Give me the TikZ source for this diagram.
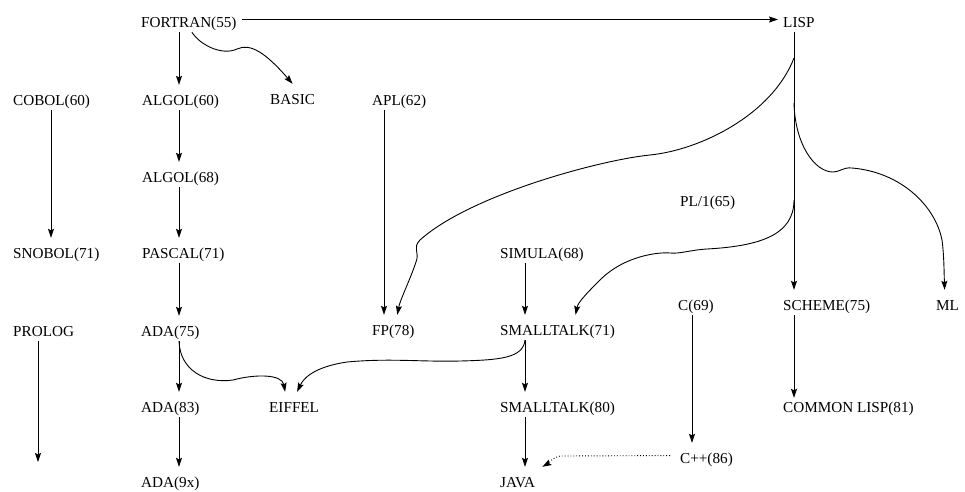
\documentclass[tikz,border=0pt]{standalone}
\usepackage{fontspec}
\setmainfont{Liberation Serif}
\usetikzlibrary{arrows.meta}
\begin{document}
\begin{tikzpicture}[x=1pt, y=-1pt,
    lbl/.style={anchor=base west, inner xsep=0pt, inner ysep=4pt, text height=16pt, text depth=1pt, font=\fontsize{15.2}{18}\selectfont},
    arr/.style={-{Stealth[length=9pt, width=6pt, inset=1.5pt]}, line width=0.9pt}]
        \useasboundingbox (0, 0) rectangle (965, 491);
        \node [lbl] (fortran) at (141, 27) {FORTRAN(55)};
        \node [lbl] (lisp) at (783, 27) {LISP};
        \node [lbl] (cobol) at (13, 105) {COBOL(60)};
        \node [lbl] (algol60) at (142, 105) {ALGOL(60)};
        \node [lbl] (basic) at (270, 104) {BASIC};
        \node [lbl] (apl) at (372, 105) {APL(62)};
        \node [lbl] (algol68) at (142, 182) {ALGOL(68)};
        \node [lbl] (pli) at (680, 206) {PL/1(65)};
        \node [lbl] (snobol) at (13, 258) {SNOBOL(71)};
        \node [lbl] (pascal) at (142, 258) {PASCAL(71)};
        \node [lbl] (simula) at (500, 258) {SIMULA(68)};
        \node [lbl] (c) at (678, 310) {C(69)};
        \node [lbl] (scheme) at (783, 310) {SCHEME(75)};
        \node [lbl] (ml) at (936, 310) {ML};
        \node [lbl] (prolog) at (13, 336) {PROLOG};
        \node [lbl] (ada75) at (141, 336) {ADA(75)};
        \node [lbl] (fp) at (372, 335) {FP(78)};
        \node [lbl] (smalltalk71) at (500, 335) {SMALLTALK(71)};
        \node [lbl] (ada83) at (141, 412) {ADA(83)};
        \node [lbl] (eiffel) at (269, 412) {EIFFEL};
        \node [lbl] (smalltalk80) at (500, 412) {SMALLTALK(80)};
        \node [lbl] (commonlisp) at (783, 412) {COMMON LISP(81)};
        \node [lbl] (cpp) at (680, 463) {C++(86)};
        \node [lbl] (ada9x) at (141, 487) {ADA(9x)};
        \node [lbl] (java) at (500, 487) {JAVA};
        \coordinate (prologCol) at (38, 0);
        \coordinate (cobolCol) at (51, 0);
        \coordinate (algolCol) at (179, 0);
        \coordinate (aplCol) at (384, 0);
        \coordinate (simulaCol) at (525, 0);
        \coordinate (cCol) at (692, 0);
        \coordinate (lispCol) at (794, 0);
        \coordinate (prologEnd) at (38, 462);
        \coordinate (lispA) at (794, 58);
        \coordinate (lispB) at (794, 103);
        \coordinate (lispC) at (794, 200);
        \draw [arr, shorten <=5pt, shorten >=5pt] (fortran.east) -- (lisp.west);
        \draw [arr] (fortran.south -| algolCol) -- (algol60.north -| algolCol);
        \draw [arr] ([xshift=3pt]fortran.south) .. controls (200, 45) and (222, 56) .. (237, 49)
            .. controls (250, 43) and (265, 52) .. (basic.north);
        \draw [arr] (cobol.south -| cobolCol) -- (snobol.north -| cobolCol);
        \draw [arr] (algol60.south -| algolCol) -- (algol68.north -| algolCol);
        \draw [arr] (algol68.south -| algolCol) -- (pascal.north -| algolCol);
        \draw [arr] (pascal.south -| algolCol) -- (ada75.north -| algolCol);
        \draw [arr] (ada75.south -| algolCol) -- (ada83.north -| algolCol);
        \draw [arr] (ada83.south -| algolCol) -- (ada9x.north -| algolCol);
        \draw [arr] (apl.south -| aplCol) -- (fp.north -| aplCol);
        \draw [arr] (lisp.south -| lispCol) -- (scheme.north -| lispCol);
        \draw [arr, shorten >=-6pt] (scheme.south -| lispCol) -- (commonlisp.north -| lispCol);
        \draw [arr] (c.south -| cCol) -- (cpp.north -| cCol);
        \draw [arr] (simula.south -| simulaCol) -- (smalltalk71.north -| simulaCol);
        \draw [arr] (smalltalk71.south -| simulaCol) -- (smalltalk80.north -| simulaCol);
        \draw [arr] (smalltalk80.south -| simulaCol) -- (java.north -| simulaCol);
        \draw [arr] (prolog.south -| prologCol) -- (prologEnd);
        \draw [arr] (lispA) .. controls (772, 115) and (700, 150) .. (650, 155)
            .. controls (600, 160) and (470, 195) .. (420, 240)
            .. controls (412, 248) and (420, 252) .. (416, 262)
            .. controls (410, 280) and (400, 300) .. ([xshift=4pt]fp.north);
        \draw [arr] (lispB) .. controls (795, 145) and (815, 172) .. (833, 172)
            .. controls (840, 172) and (843, 167) .. (852, 168)
            .. controls (900, 172) and (935, 205) .. (942, 240)
            .. controls (944, 255) and (944, 270) .. ([xshift=-3pt]ml.north);
        \draw [arr] (lispC) .. controls (794, 235) and (760, 246) .. (707, 249)
            .. controls (690, 250) and (680, 254) .. (670, 253)
            .. controls (660, 252) and (625, 255) .. (600, 280)
            .. controls (588, 292) and (578, 302) .. ([xshift=18pt]smalltalk71.north);
        \draw [arr] (smalltalk71.south -| simulaCol) .. controls (523, 358) and (500, 360) .. (460, 361)
            .. controls (420, 362) and (390, 358) .. (347, 362)
            .. controls (320, 366) and (305, 375) .. ([xshift=3pt]eiffel.north);
        \draw [arr] (ada75.south -| algolCol) .. controls (180, 370) and (205, 384) .. (233, 380)
            .. controls (255, 374) and (282, 374) .. ([xshift=-9pt]eiffel.north);
        \draw [arr, dotted, shorten <=10pt] (cpp.west) -- (560, 456)
            .. controls (553, 457) and (549, 463) .. ([xshift=7pt]java.north east);
\end{tikzpicture}
\end{document}
